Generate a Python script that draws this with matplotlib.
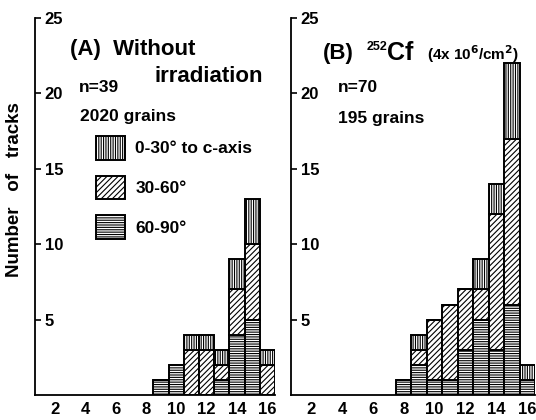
import numpy as np
import matplotlib
matplotlib.use('Agg')
import matplotlib.pyplot as plt
from matplotlib.patches import Patch

plt.rcParams['font.family'] = ['Liberation Sans', 'DejaVu Sans']
plt.rcParams['font.weight'] = 'bold'
plt.rcParams['hatch.linewidth'] = 0.8

# 轨迹长度 (bin 中心)
bins_a = [9, 10, 11, 12, 13, 14, 15, 16]
bins_b = [8, 9, 10, 11, 12, 13, 14, 15, 16]

# (A) 未辐照, n=39
a_60_90 = [1, 2, 0, 0, 1, 4, 5, 0]
a_30_60 = [0, 0, 3, 3, 1, 3, 5, 2]
a_0_30 = [0, 0, 1, 1, 1, 2, 3, 1]

# (B) 252Cf, n=70
b_60_90 = [1, 2, 1, 1, 3, 5, 3, 6, 1]
b_30_60 = [0, 1, 4, 5, 4, 2, 9, 11, 0]
b_0_30 = [0, 1, 0, 0, 0, 2, 2, 5, 1]

xticks = [2, 4, 6, 8, 10, 12, 14, 16]
yticks = [5, 10, 15, 20, 25]

group_labels = ['0-30° to c-axis', '30-60°', '60-90°']
hatches = ['|||||||', '//////', '-------']

W, H = 536, 420
fig = plt.figure(figsize=(W / 100, H / 100), dpi=100)
ax_a = fig.add_axes([35 / W, 25 / H, 240 / W, 377 / H])
ax_b = fig.add_axes([291 / W, 25 / H, 244 / W, 377 / H])


def draw_stack(ax, x, low, mid, top):
    low = np.array(low)
    mid = np.array(mid)
    top = np.array(top)
    kw = dict(width=1, color='white', edgecolor='black', linewidth=1.4)
    ax.bar(x, low, hatch=hatches[2], **kw)
    ax.bar(x, mid, bottom=low, hatch=hatches[1], **kw)
    ax.bar(x, top, bottom=low + mid, hatch=hatches[0], **kw)


def style_axis(ax):
    ax.set_xlim(0.7, 16.5)
    ax.set_ylim(0, 25)
    for s in ['top', 'right']:
        ax.spines[s].set_visible(False)
    ax.spines['left'].set_linewidth(1.3)
    ax.spines['bottom'].set_linewidth(1.3)
    ax.set_xticks(xticks)
    ax.set_yticks(yticks)
    ax.tick_params(axis='x', length=0, pad=5, labelsize=12)
    ax.tick_params(axis='y', direction='in', length=4, width=1.2, pad=-7, labelsize=12)
    for t in ax.get_yticklabels():
        t.set_horizontalalignment('left')
    ax.patch.set_alpha(0)


draw_stack(ax_a, bins_a, a_60_90, a_30_60, a_0_30)
draw_stack(ax_b, bins_b, b_60_90, b_30_60, b_0_30)
style_axis(ax_a)
style_axis(ax_b)

fig.text(15 / W, 1 - 190 / H, 'Number   of   tracks', rotation=90, ha='center', va='center', fontsize=13.5)

# 面板 A 文字
fig.text(70 / W, 1 - 50 / H, '(A)  Without', fontsize=16, ha='left', va='center')
fig.text(154 / W, 1 - 77 / H, 'irradiation', fontsize=16, ha='left', va='center')
fig.text(79 / W, 1 - 88 / H, 'n=39', fontsize=12.5, ha='left', va='center')
fig.text(80 / W, 1 - 117 / H, '2020 grains', fontsize=12.5, ha='left', va='center')

# 面板 B 文字
fig.text(323 / W, 1 - 53 / H, '(B)', fontsize=16, ha='left', va='center')
fig.text(367 / W, 1 - 47 / H, '252', fontsize=9, ha='left', va='center')
fig.text(387 / W, 1 - 53 / H, 'Cf', fontsize=18, ha='left', va='center')
fig.text(427 / W, 1 - 54 / H, '(4x 10$^{\\mathbf{6}}$/cm$^{\\mathbf{2}}$)', fontsize=11, ha='left', va='center')
fig.text(338 / W, 1 - 87 / H, 'n=70', fontsize=12.5, ha='left', va='center')
fig.text(338 / W, 1 - 118 / H, '195 grains', fontsize=12.5, ha='left', va='center')

handles = [Patch(facecolor='white', edgecolor='black', hatch=h, linewidth=1.4) for h in hatches]
fig.legend(handles, group_labels, loc='upper left', bbox_to_anchor=(96 / W, 1 - 136 / H),
           frameon=False, fontsize=12.5, handlelength=1.68, handleheight=1.72,
           labelspacing=0.92, handletextpad=0.58, borderpad=0, borderaxespad=0)

fig.savefig('out.png', dpi=100)
